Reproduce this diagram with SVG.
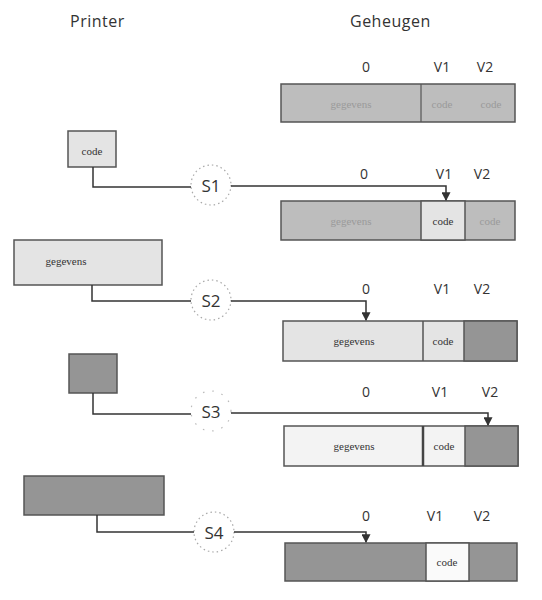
<svg xmlns="http://www.w3.org/2000/svg" width="542" height="600" viewBox="0 0 542 600">
<style>
.title{font-family:"Open Sans","Liberation Sans",sans-serif;font-size:16px;fill:#333;letter-spacing:0.5px}
.lbl{font-family:"Open Sans","Liberation Sans",sans-serif;font-size:14px;fill:#333;text-anchor:middle}
.s{font-family:"Open Sans","Liberation Sans",sans-serif;font-size:17px;fill:#333;text-anchor:middle;dominant-baseline:central}
.t{font-family:"Liberation Serif",serif;font-size:11px;fill:#333;text-anchor:middle;dominant-baseline:central}
.faint{font-family:"Liberation Serif",serif;font-size:11px;fill:#9a9a9a;text-anchor:middle;dominant-baseline:central}
.box{stroke:#555;stroke-width:1.5}
.mid{fill:#bdbdbd}
.light{fill:#e4e4e4}
.pale{fill:#f3f3f3}
.dark{fill:#959595}
.circ{fill:#fff;stroke:#aaa;stroke-width:1.2;stroke-dasharray:1.5 3}
.con{fill:none;stroke:#333;stroke-width:1.5}
</style>
<defs>
<marker id="arr" viewBox="0 0 8 8" refX="7" refY="4" markerWidth="6" markerHeight="6" orient="auto">
<path d="M0,0 L8,4 L0,8 z" fill="#333"/>
</marker>
</defs>

<text class="title" x="70" y="27">Printer</text>
<text class="title" x="350" y="27">Geheugen</text>

<!-- Memory row 1 -->
<g id="mem0">
<text class="lbl" x="366" y="72">0</text>
<text class="lbl" x="442" y="72">V1</text>
<text class="lbl" x="485" y="72">V2</text>
<rect class="box mid" x="281" y="84" width="234" height="38"/>
<line x1="421" y1="84" x2="421" y2="122" stroke="#555" stroke-width="1.2"/>
<text class="faint" x="351" y="104">gegevens</text>
<text class="faint" x="442" y="104">code</text>
<text class="faint" x="491" y="104">code</text>
</g>

<!-- Step 1 -->
<g id="p1"><rect class="box light" x="68" y="131" width="48" height="36"/><text class="t" x="92" y="151">code</text></g>
<g id="s1"><circle class="circ" cx="211" cy="185" r="20"/><text class="s" x="211" y="185">S1</text></g>
<g id="mem1">
<text class="lbl" x="364" y="179">0</text>
<text class="lbl" x="444" y="179">V1</text>
<text class="lbl" x="482" y="179">V2</text>
<rect class="box mid" x="281" y="201" width="234" height="39"/>
<rect class="box light" x="421" y="201" width="44" height="39"/>
<text class="faint" x="351" y="221">gegevens</text>
<text class="t" x="443" y="221">code</text>
<text class="faint" x="490" y="221">code</text>
</g>

<!-- Step 2 -->
<g id="p2"><rect class="box light" x="14" y="240" width="148" height="45"/><text class="t" x="66" y="261">gegevens</text></g>
<g id="s2"><circle class="circ" cx="211" cy="300" r="20"/><text class="s" x="211" y="300">S2</text></g>
<g id="mem2">
<text class="lbl" x="366" y="294">0</text>
<text class="lbl" x="442" y="294">V1</text>
<text class="lbl" x="482" y="294">V2</text>
<rect class="box light" x="283" y="321" width="234" height="40"/>
<line x1="423" y1="321" x2="423" y2="361" stroke="#555" stroke-width="1.5"/>
<rect class="box dark" x="464" y="321" width="53" height="40"/>
<text class="t" x="354" y="341">gegevens</text>
<text class="t" x="443" y="341">code</text>
</g>

<!-- Step 3 -->
<g id="p3"><rect class="box dark" x="69" y="354" width="48" height="39"/></g>
<g id="s3"><circle cx="211" cy="411" r="20" fill="#fff" stroke="#bbb" stroke-width="1.2" stroke-dasharray="1.5 8"/><text class="s" x="211" y="411">S3</text></g>
<g id="mem3">
<text class="lbl" x="366" y="397">0</text>
<text class="lbl" x="440" y="397">V1</text>
<text class="lbl" x="490" y="397">V2</text>
<rect class="box pale" x="284" y="426" width="234" height="40"/>
<line x1="423" y1="426" x2="423" y2="466" stroke="#444" stroke-width="2.5"/>
<rect class="box dark" x="465" y="426" width="53" height="40"/>
<text class="t" x="354" y="446">gegevens</text>
<text class="t" x="444" y="446">code</text>
</g>

<!-- Step 4 -->
<g id="p4"><rect class="box dark" x="24" y="476" width="140" height="39"/></g>
<g id="s4"><circle class="circ" cx="214" cy="532" r="20"/><text class="s" x="214" y="532">S4</text></g>
<g id="mem4">
<text class="lbl" x="366" y="521">0</text>
<text class="lbl" x="435" y="521">V1</text>
<text class="lbl" x="482" y="521">V2</text>
<rect class="box dark" x="285" y="543" width="232" height="38"/>
<rect class="box" x="426" y="543" width="43" height="38" fill="#fafafa"/>
<text class="t" x="447" y="562">code</text>
</g>

<g id="connectors">
<path class="con" d="M93,167 V187 H191"/>
<path class="con" d="M231,186 H446 V200" marker-end="url(#arr)"/>
<path class="con" d="M92,285 V301 H191"/>
<path class="con" d="M231,301 H366 V320" marker-end="url(#arr)"/>
<path class="con" d="M93,393 V414 H191"/>
<path class="con" d="M231,413 H488 V425" marker-end="url(#arr)"/>
<path class="con" d="M97,515 V532 H194"/>
<path class="con" d="M234,532 H366 V542" marker-end="url(#arr)"/>
</g>
</svg>
